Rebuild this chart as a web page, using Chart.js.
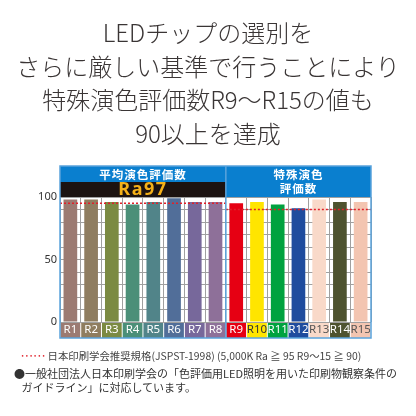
<!DOCTYPE html>
<html>
<head>
<meta charset="utf-8">
<script src="https://cdn.jsdelivr.net/npm/chart.js@4"></script>
<style>
  html, body { margin: 0; padding: 0; background: #fff; }
  #wrap { position: absolute; left: 0; top: 0; width: 416px; height: 416px; }
  .txt { position: absolute; font-family: "Noto Sans CJK JP", sans-serif; color: #333; white-space: nowrap; }
  #title { left: 0; top: 15px; width: 416px; text-align: center; font-size: 24px; line-height: 33.5px; font-weight: 300; color: #3a3535; }
  #note1 { left: 20px; top: 348px; font-size: 10.4px; color: #444; }
  #note1 .dots { color: #e0202a; letter-spacing: -1px; }
  #note2 { left: 14px; top: 366px; font-size: 11px; line-height: 14px; color: #333; }
</style>
</head>
<body>
<div id="wrap"><canvas id="chart"></canvas></div>

<div id="title" class="txt">LEDチップの選別を<br>さらに厳しい基準で行うことにより<br>特殊演色評価数R9～R15の値も<br>90以上を達成</div>
<div id="note1" class="txt"><span class="dots">･･････</span> 日本印刷学会推奨規格(JSPST-1998) (5,000K Ra ≧ 95 R9～15 ≧ 90)</div>
<div id="note2" class="txt">●一般社団法人日本印刷学会の「色評価用LED照明を用いた印刷物観察条件の<br>&nbsp;&nbsp;&nbsp;ガイドライン」に対応しています。</div>

<script>
// chart data
const labels = ['R1','R2','R3','R4','R5','R6','R7','R8','R9','R10','R11','R12','R13','R14','R15'];
const values = [98, 98, 96, 94, 96, 99, 96, 96, 95, 96, 94, 91, 98, 96, 96];
const barColors = ['#9b7a72','#8f7d60','#7b8a42','#4b8f78','#518489','#516e99','#77689b','#8e7099',
                   '#e60013','#ffe500','#00a23f','#1f4c9e','#f9d9c9','#4e532f','#f3c5b1'];
const labelColors = ['#fff','#fff','#fff','#fff','#fff','#fff','#fff','#fff',
                     '#fff','#333','#fff','#fff','#555','#fff','#555'];
const yTicks = [0, 50, 100];
const raRecommended = 95;      // R1-R8
const specialRecommended = 90; // R9-R15
const groupSplit = 8;          // first 8 are the Ra group
const headerLeft = '平均演色評価数';
const headerRa = 'Ra97';
const headerRight = ['特殊演色', '評価数'];

const frameBlue = '#5aa3dc';
const headBlue = '#0a7fcf';

const deco = {
  id: 'deco',
  beforeDraw(chart) {
    const ctx = chart.ctx, x = chart.scales.x, a = chart.chartArea;
    const w = x.getPixelForValue(1) - x.getPixelForValue(0);
    ctx.save();
    labels.forEach((l, i) => {
      const cx = x.getPixelForValue(i);
      ctx.fillStyle = barColors[i];
      ctx.fillRect(cx - w / 2 + 0.5, a.bottom, w - 1, 16);
    });
    ctx.restore();
  },
  afterDatasetsDraw(chart) {
    const ctx = chart.ctx, x = chart.scales.x, y = chart.scales.y, a = chart.chartArea;
    const split = (x.getPixelForValue(groupSplit - 1) + x.getPixelForValue(groupSplit)) / 2;
    ctx.save();
    // recommended lines
    ctx.strokeStyle = '#e0202a';
    ctx.lineWidth = 1.3;
    ctx.setLineDash([2, 2]);
    ctx.beginPath();
    ctx.moveTo(a.left, y.getPixelForValue(raRecommended));
    ctx.lineTo(split, y.getPixelForValue(raRecommended));
    ctx.moveTo(split, y.getPixelForValue(specialRecommended));
    ctx.lineTo(a.right, y.getPixelForValue(specialRecommended));
    ctx.stroke();
    ctx.setLineDash([]);

    // headers
    const top = a.top - 31;
    ctx.fillStyle = headBlue;
    ctx.fillRect(a.left, top, split - a.left, 16);
    ctx.fillRect(split, top, a.right - split, 31);
    ctx.fillStyle = '#1c1311';
    ctx.fillRect(a.left, top + 16, split - a.left, 15);

    ctx.textAlign = 'center';
    ctx.textBaseline = 'middle';
    ctx.fillStyle = '#fff';
    ctx.font = 'bold 11.5px "Noto Sans CJK JP"';
    ctx.letterSpacing = '1px';
    ctx.fillText(headerLeft, (a.left + split) / 2, top + 8.5);
    ctx.fillText(headerRight[0], (split + a.right) / 2, top + 9);
    ctx.fillText(headerRight[1], (split + a.right) / 2, top + 23);
    ctx.fillStyle = '#f5b119';
    ctx.font = 'bold 18px "Noto Sans"';
    ctx.letterSpacing = '1.5px';
    ctx.fillText(headerRa, (a.left + split) / 2, top + 24);
    ctx.letterSpacing = '0px';

    // frame
    ctx.strokeStyle = frameBlue;
    ctx.lineWidth = 1.5;
    ctx.strokeRect(a.left, top, a.right - a.left, a.bottom + 16 - top);
    ctx.beginPath();
    ctx.moveTo(split, top);
    ctx.lineTo(split, a.bottom + 16);
    ctx.stroke();
    ctx.restore();
  }
};

new Chart(document.getElementById('chart'), {
  type: 'bar',
  data: {
    labels: labels,
    datasets: [{
      data: values,
      backgroundColor: barColors,
      borderWidth: 0,
      barPercentage: 0.66,
      categoryPercentage: 1
    }]
  },
  options: {
    responsive: true,
    maintainAspectRatio: false,
    animation: false,
    layout: { padding: { top: 197, bottom: 78, left: 30, right: 45 } },
    plugins: { legend: { display: false }, tooltip: { enabled: false } },
    scales: {
      x: {
        offset: true,
        grid: { offset: true, color: '#a0a0a0', drawTicks: false },
        border: { display: false },
        ticks: {
          padding: 1,
          autoSkip: false,
          maxRotation: 0,
          minRotation: 0,
          color: (c) => labelColors[c.index],
          font: { family: 'Noto Sans', size: 11.5 }
        },
        afterFit(s) { s.height = 16; }
      },
      y: {
        min: 0,
        max: 100,
        grid: { color: '#a0a0a0', drawTicks: false },
        border: { display: false },
        ticks: {
          stepSize: 10,
          autoSkip: false,
          padding: 3,
          color: '#333',
          font: { family: 'Noto Sans', size: 11 },
          callback: (v) => yTicks.includes(v) ? v : ''
        },
        afterFit(s) { s.width = 30; }
      }
    }
  },
  plugins: [deco]
});
</script>
</body>
</html>
